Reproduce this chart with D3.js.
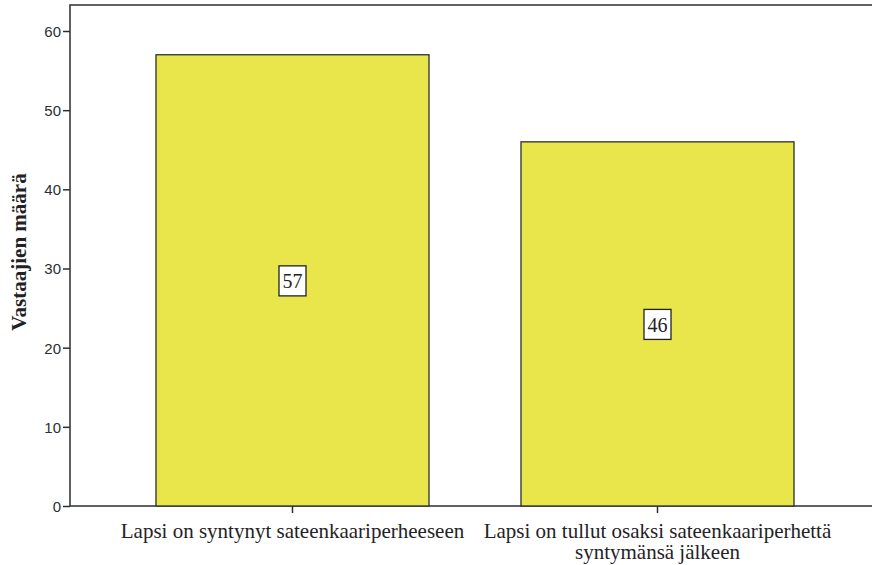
<!DOCTYPE html>
<html>
<head>
<meta charset="utf-8">
<script src="https://d3js.org/d3.v7.min.js"></script>
<style>
  body { margin: 0; background: #fff; }
  svg { display: block; }
</style>
</head>
<body>
<svg id="chart" width="872" height="565"></svg>
<script>
// chart data
const categories = [
  ["Lapsi on syntynyt sateenkaariperheeseen"],
  ["Lapsi on tullut osaksi sateenkaariperhettä", "syntymänsä jälkeen"]
]
const counts = [57, 46]
const yTicks = [0, 10, 20, 30, 40, 50, 60]

const svg = d3.select("#chart")
const plotLeft = 70, plotTop = 5, plotRight = 873, plotBottom = 506

const x = d3.scaleBand()
  .domain(d3.range(categories.length))
  .range([110, 840])
  .paddingInner(0.252)
  .paddingOuter(0.126)

const y = d3.scaleLinear().domain([0, 60]).range([plotBottom, 31])

// frame
svg.append("rect")
  .attr("x", plotLeft).attr("y", plotTop)
  .attr("width", plotRight - plotLeft).attr("height", plotBottom - plotTop)
  .attr("fill", "none").attr("stroke", "#2b2f33").attr("stroke-width", 1.5)

// bars
svg.selectAll(".bar")
  .data(counts)
  .enter()
  .append("rect")
  .attr("class", "bar")
  .attr("x", (d, i) => x(i))
  .attr("y", (d) => y(d))
  .attr("width", x.bandwidth())
  .attr("height", (d) => y(0) - y(d))
  .attr("fill", "#e8e64a")
  .attr("stroke", "#2b2f33")
  .attr("stroke-width", 1.3)

// value labels in boxes
const lab = svg.selectAll(".val")
  .data(counts)
  .enter()
  .append("g")
  .attr("class", "val")
  .attr("transform", (d, i) => `translate(${x(i) + x.bandwidth() / 2},${y(d / 2)})`)

lab.append("rect")
  .attr("x", -13.5).attr("y", -14.5)
  .attr("width", 27).attr("height", 30)
  .attr("fill", "#fff").attr("stroke", "#1f2326").attr("stroke-width", 1.3)

lab.append("text")
  .attr("text-anchor", "middle")
  .attr("y", 8)
  .style("font-family", "'Liberation Serif', 'Times New Roman', serif")
  .style("font-size", "20px")
  .style("fill", "#1f2326")
  .text((d) => d)

// y axis
const yAxis = svg.append("g")
  .attr("transform", `translate(${plotLeft},0)`)
  .call(d3.axisLeft(y).tickValues(yTicks).tickSize(7).tickPadding(2))
yAxis.select(".domain").remove()
yAxis.selectAll("line").attr("stroke", "#2b2f33").attr("stroke-width", 1.5)
yAxis.selectAll("text")
  .attr("dy", "0.36em")
  .style("font-family", "'Liberation Sans', Arial, sans-serif")
  .style("font-size", "15px")
  .style("fill", "#2b2f33")

// x axis ticks
svg.selectAll(".xtick")
  .data(categories)
  .enter()
  .append("line")
  .attr("x1", (d, i) => x(i) + x.bandwidth() / 2)
  .attr("x2", (d, i) => x(i) + x.bandwidth() / 2)
  .attr("y1", plotBottom).attr("y2", plotBottom + 7)
  .attr("stroke", "#2b2f33").attr("stroke-width", 1.5)

// x labels
const xl = svg.selectAll(".xlab")
  .data(categories)
  .enter()
  .append("text")
  .attr("class", "xlab")
  .attr("text-anchor", "middle")
  .style("font-family", "'Liberation Serif', 'Times New Roman', serif")
  .style("font-size", "21px")
  .style("fill", "#1f2326")

xl.selectAll("tspan")
  .data((d, i) => d.map((t) => ({ t, i })))
  .enter()
  .append("tspan")
  .attr("x", (d) => x(d.i) + x.bandwidth() / 2)
  .attr("y", (d, j) => 538 + j * 21)
  .text((d) => d.t)

// y title
svg.append("text")
  .attr("transform", `translate(26,252) rotate(-90)`)
  .attr("text-anchor", "middle")
  .style("font-family", "'Liberation Serif', 'Times New Roman', serif")
  .style("font-size", "21px")
  .style("font-weight", "bold")
  .style("fill", "#1f2326")
  .text("Vastaajien määrä")
</script>
</body>
</html>
